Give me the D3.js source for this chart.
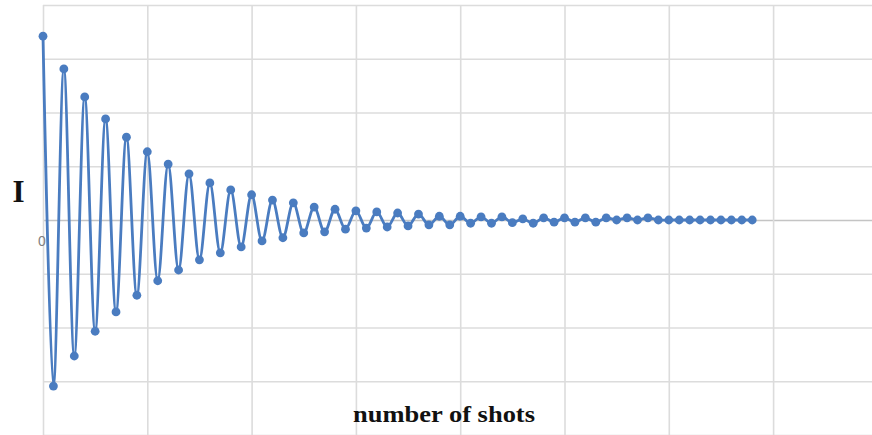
<!DOCTYPE html>
<html>
<head>
<meta charset="utf-8">
<script src="https://cdn.jsdelivr.net/npm/d3@7"></script>
<style>
  html, body { margin: 0; padding: 0; background: #fff; }
  svg { display: block; }
</style>
</head>
<body>
<svg id="chart" width="872" height="435"></svg>
<script>
// Damped oscillation of intensity I over successive shots
const shots = d3.range(0, 69);
const intensity = [
  3.42, -3.09, 2.81, -2.53, 2.29, -2.07, 1.88, -1.71, 1.54, -1.40,
  1.27, -1.13, 1.04, -0.93, 0.86, -0.74, 0.69, -0.61, 0.56, -0.50,
  0.47, -0.39, 0.37, -0.33, 0.32, -0.24, 0.24, -0.22, 0.20, -0.17,
  0.17, -0.15, 0.15, -0.13, 0.13, -0.11, 0.11, -0.09, 0.07, -0.09,
  0.07, -0.06, 0.06, -0.06, 0.06, -0.05, 0.02, -0.06, 0.04, -0.04,
  0.04, -0.04, 0.04, -0.04, 0.04, 0.00, 0.04, 0.00, 0.04, 0.00,
  0.00, 0.00, 0.00, 0.00, 0.00, 0.00, 0.00, 0.00, 0.00
];
const xGridTicks = d3.range(0, 90, 10);
const yGridTicks = d3.range(-4, 5, 1);
const zeroLabel = "0";
const yTitle = "I";
const xTitle = "number of shots";

const svg = d3.select("#chart");
const W = 872, H = 435;

const x = d3.scaleLinear().domain([0, 80]).range([43, 877.4]);
const y = d3.scaleLinear().domain([-4, 4]).range([435, 5]);

// Horizontal gridlines
svg.append("g")
  .attr("transform", `translate(${x(0)},0)`)
  .call(d3.axisRight(y).tickValues(yGridTicks).tickSize(W - x(0)).tickFormat(""))
  .call(g => g.select(".domain").remove())
  .call(g => g.selectAll(".tick line")
    .attr("stroke", d => d === 0 ? "#c4c4c4" : "#dcdcdc")
    .attr("stroke-width", 1.6));

// Vertical gridlines
svg.append("g")
  .attr("transform", `translate(0,${y(4)})`)
  .call(d3.axisBottom(x).tickValues(xGridTicks).tickSize(H - y(4) + 2).tickFormat(""))
  .call(g => g.select(".domain").remove())
  .call(g => g.selectAll(".tick line")
    .attr("stroke", "#dcdcdc")
    .attr("stroke-width", 1.6));

const data = shots.map((s, i) => ({ s, v: intensity[i] }));

svg.append("path")
  .datum(data)
  .attr("fill", "none")
  .attr("stroke", "#4a7cc0")
  .attr("stroke-width", 2.8)
  .attr("stroke-linejoin", "round")
  .attr("d", d3.line().x(d => x(d.s)).y(d => y(d.v)).curve(d3.curveCatmullRom.alpha(0.5)));

svg.append("g")
  .selectAll("circle")
  .data(data)
  .join("circle")
  .attr("cx", d => x(d.s))
  .attr("cy", d => y(d.v))
  .attr("r", 4.4)
  .attr("fill", "#4a7cc0");

// Zero label on the value axis
svg.append("text")
  .attr("x", x(0) - 1)
  .attr("y", y(0) + 26)
  .attr("text-anchor", "middle")
  .attr("font-family", "Liberation Sans, Arial, sans-serif")
  .attr("font-size", 14)
  .attr("fill", "#7f7f7f")
  .text(zeroLabel);

// Axis titles
svg.append("text")
  .attr("x", 18.5)
  .attr("y", 202)
  .attr("text-anchor", "middle")
  .attr("font-family", "Liberation Serif, 'Times New Roman', serif")
  .attr("font-weight", "bold")
  .attr("font-size", 31)
  .attr("fill", "#111")
  .text(yTitle);

svg.append("text")
  .attr("x", 353)
  .attr("y", 422)
  .attr("font-family", "Liberation Serif, 'Times New Roman', serif")
  .attr("font-weight", "bold")
  .attr("font-size", 23)
  .attr("textLength", 182)
  .attr("lengthAdjust", "spacingAndGlyphs")
  .attr("fill", "#111")
  .text(xTitle);
</script>
</body>
</html>
